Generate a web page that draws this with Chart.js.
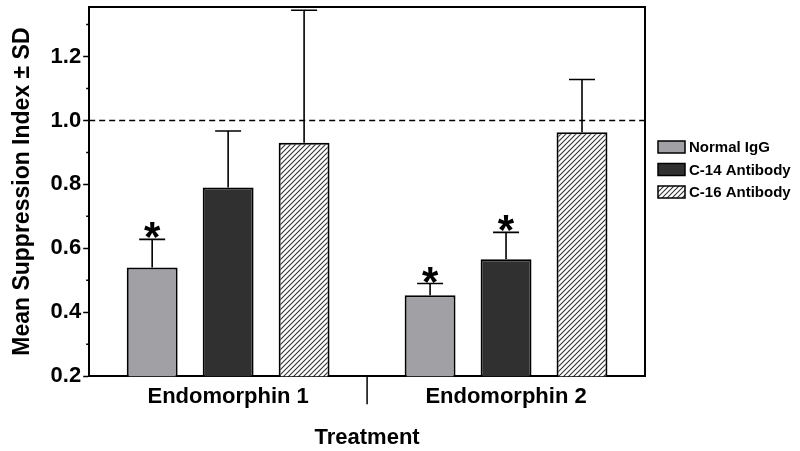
<!DOCTYPE html>
<html>
<head>
<meta charset="utf-8">
<script src="https://cdn.jsdelivr.net/npm/chart.js@4.4.1/dist/chart.umd.min.js"></script>
<style>
  html, body { margin: 0; padding: 0; background: #fff; }
  #wrap { width: 800px; height: 451px; }
</style>
</head>
<body>
<div id="wrap"><canvas id="chart"></canvas></div>
<script>
const categories = ['Endomorphin 1', 'Endomorphin 2'];
const seriesNames = ['Normal IgG', 'C-14 Antibody', 'C-16 Antibody'];
const normalIgG = [0.54, 0.453];
const normalIgGSD = [0.088, 0.037];
const c14Antibody = [0.79, 0.566];
const c14AntibodySD = [0.177, 0.084];
const c16Antibody = [0.93, 0.963];
const c16AntibodySD = [0.415, 0.165];
const normalIgGSig = [true, true];
const c14AntibodySig = [false, true];
const c16AntibodySig = [false, false];
const yTicks = [0.2, 0.4, 0.6, 0.8, 1.0, 1.2];
const yMinorTicks = [0.3, 0.5, 0.7, 0.9, 1.1, 1.3];
const yMin = 0.2;
const yMax = 1.355;
const refLine = 1.0;

const FONT = "'Liberation Sans', Arial, sans-serif";

// diagonal hatch for C-16
function makeHatch() {
    const c = document.createElement('canvas');
    c.width = 5; c.height = 5;
    const g = c.getContext('2d');
    g.fillStyle = '#fff';
    g.fillRect(0, 0, 5, 5);
    g.strokeStyle = '#333';
    g.lineWidth = 1.1;
    g.beginPath();
    g.moveTo(-1, 6); g.lineTo(6, -1);
    g.moveTo(-1, 1); g.lineTo(1, -1);
    g.moveTo(4, 6); g.lineTo(6, 4);
    g.stroke();
    return g.createPattern(c, 'repeat');
}
const hatch = makeHatch();

const datasets = [
    { label: seriesNames[0], data: normalIgG, sd: normalIgGSD, sig: normalIgGSig, backgroundColor: '#a1a1a5' },
    { label: seriesNames[1], data: c14Antibody, sd: c14AntibodySD, sig: c14AntibodySig, backgroundColor: '#303030' },
    { label: seriesNames[2], data: c16Antibody, sd: c16AntibodySD, sig: c16AntibodySig, backgroundColor: hatch }
].map(d => Object.assign(d, {
    borderColor: '#000',
    borderWidth: 2,
    barPercentage: 0.67,
    categoryPercentage: 0.82
}));

const decorPlugin = {
    id: 'decor',
    afterDatasetsDraw(chart) {
        const ctx = chart.ctx;
        const area = chart.chartArea;
        const y = chart.scales.y;
        const x = chart.scales.x;
        ctx.save();

        // reference line
        ctx.strokeStyle = '#000';
        ctx.lineWidth = 1.5;
        ctx.setLineDash([6, 4]);
        ctx.beginPath();
        ctx.moveTo(area.left, y.getPixelForValue(refLine));
        ctx.lineTo(area.right, y.getPixelForValue(refLine));
        ctx.stroke();
        ctx.setLineDash([]);

        // error bars + significance stars
        chart.data.datasets.forEach((ds, di) => {
            const meta = chart.getDatasetMeta(di);
            meta.data.forEach((bar, i) => {
                const top = y.getPixelForValue(ds.data[i]);
                const capY = y.getPixelForValue(ds.data[i] + ds.sd[i]);
                ctx.strokeStyle = '#000';
                ctx.lineWidth = 1.6;
                ctx.beginPath();
                ctx.moveTo(bar.x, top);
                ctx.lineTo(bar.x, capY);
                ctx.moveTo(bar.x - 13, capY);
                ctx.lineTo(bar.x + 13, capY);
                ctx.stroke();
                if (ds.sig[i]) {
                    ctx.fillStyle = '#000';
                    ctx.font = 'bold 42px ' + FONT;
                    ctx.textAlign = 'center';
                    ctx.textBaseline = 'alphabetic';
                    ctx.fillText('*', bar.x, capY + 12);
                }
            });
        });

        // frame top + right
        ctx.strokeStyle = '#000';
        ctx.lineWidth = 2;
        ctx.beginPath();
        ctx.moveTo(area.left, area.top);
        ctx.lineTo(area.right, area.top);
        ctx.lineTo(area.right, area.bottom);
        ctx.stroke();

        // minor y ticks
        ctx.lineWidth = 1.5;
        ctx.beginPath();
        yMinorTicks.forEach(v => {
            const py = y.getPixelForValue(v);
            ctx.moveTo(area.left - 3, py);
            ctx.lineTo(area.left, py);
        });
        ctx.stroke();

        // separator tick between groups
        const mid = (x.getPixelForValue(0) + x.getPixelForValue(1)) / 2;
        ctx.beginPath();
        ctx.moveTo(mid, area.bottom);
        ctx.lineTo(mid, area.bottom + 28);
        ctx.stroke();

        // legend
        const lx = area.right + 13;
        chart.data.datasets.forEach((ds, di) => {
            const ly = area.top + 140 + di * 22.5;
            ctx.fillStyle = ds.backgroundColor;
            ctx.fillRect(lx, ly - 6, 27, 12);
            ctx.lineWidth = 1.5;
            ctx.strokeRect(lx, ly - 6, 27, 12);
            ctx.fillStyle = '#000';
            ctx.font = 'bold 15px ' + FONT;
            ctx.textAlign = 'left';
            ctx.textBaseline = 'middle';
            ctx.fillText(ds.label, lx + 31, ly + 1);
        });
        ctx.restore();
    }
};

new Chart(document.getElementById('chart').getContext('2d'), {
    type: 'bar',
    data: { labels: categories, datasets: datasets },
    options: {
        responsive: true,
        maintainAspectRatio: false,
        animation: false,
        layout: { padding: { top: 7, right: 155, left: 9, bottom: 0 } },
        plugins: {
            legend: { display: false },
            tooltip: { enabled: false }
        },
        scales: {
            x: {
                grid: { drawOnChartArea: false, drawTicks: false },
                border: { display: true, color: '#000', width: 2 },
                ticks: { color: '#000', padding: 8, font: { family: FONT, size: 22, weight: 'bold' } },
                title: {
                    display: true,
                    text: 'Treatment',
                    color: '#000',
                    padding: { top: 6, bottom: 0 },
                    font: { family: FONT, size: 22, weight: 'bold' }
                }
            },
            y: {
                min: yMin,
                max: yMax,
                afterBuildTicks: axis => { axis.ticks = yTicks.map(v => ({ value: v })); },
                afterFit: axis => { axis.paddingTop = 0; },
                grid: { drawOnChartArea: false, tickLength: 6, tickColor: '#000', tickWidth: 1.5 },
                border: { display: true, color: '#000', width: 2 },
                ticks: {
                    color: '#000',
                    padding: 2,
                    font: { family: FONT, size: 22, weight: 'bold' },
                    callback: v => Number(v).toFixed(1)
                },
                title: {
                    display: true,
                    text: 'Mean Suppression Index ± SD',
                    color: '#000',
                    padding: { top: 0, bottom: 12 },
                    font: { family: FONT, size: 23, weight: 'bold' }
                }
            }
        }
    },
    plugins: [decorPlugin]
});
</script>
</body>
</html>
